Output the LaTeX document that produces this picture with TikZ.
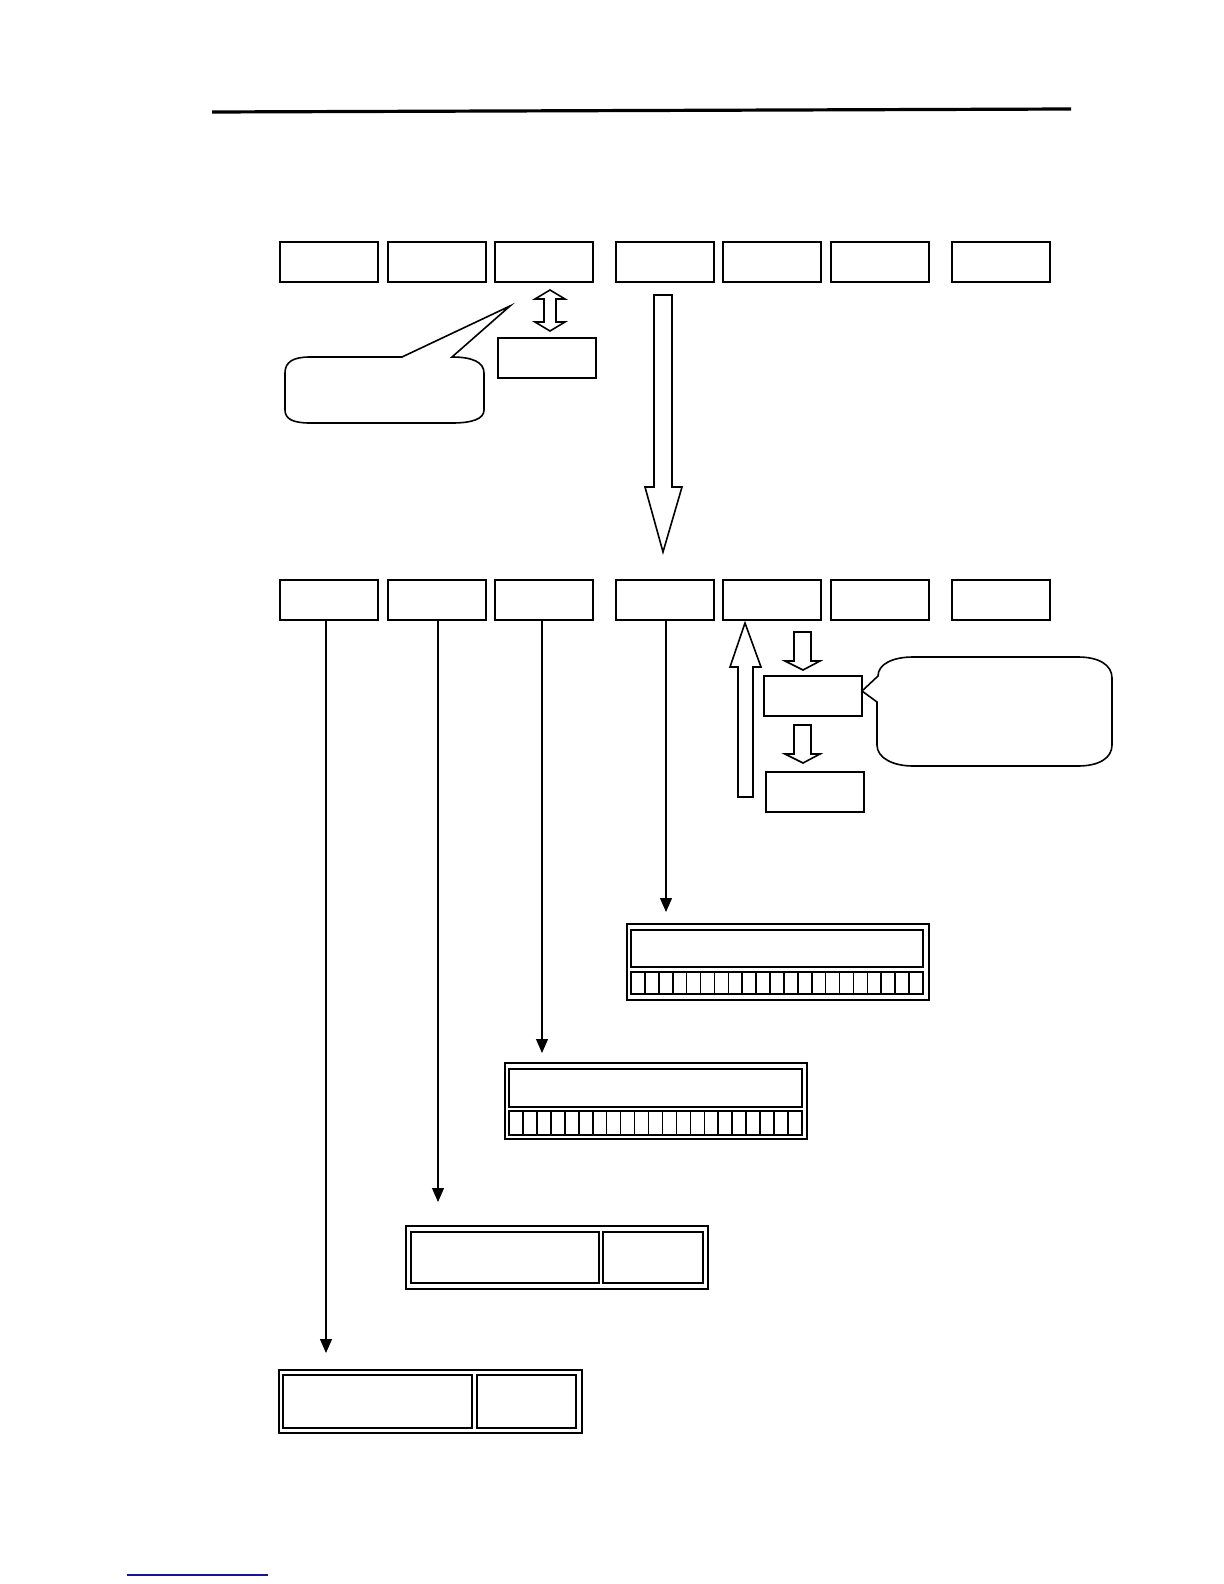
\documentclass[tikz,border=0pt]{standalone}
\usetikzlibrary{arrows.meta}
\begin{document}
\begin{tikzpicture}[x=0.5pt,y=-0.5pt,
  box/.style={draw,line width=1pt,minimum width=49pt,minimum height=20pt,inner sep=0pt,outer sep=0pt},
  panel/.style={draw,line width=1pt,inner sep=0pt,outer sep=0pt},
  conn/.style={line width=0.6pt,-{Triangle[length=7pt,width=6pt]}},
  blk/.style={draw,line width=0.8pt,fill=white,line join=miter}]
\useasboundingbox (0,0) rectangle (1224,1584);
\fill[white] (0,0) rectangle (1224,1584);
% header and footer rules
\coordinate (hl) at (212,112); \coordinate (hr) at (1071,109);
\draw[line width=1.6pt] (hl) -- (hr);
\coordinate (fl) at (127,1575); \coordinate (fr) at (268,1575);
\draw[line width=0.9pt,color={rgb,255:red,20;green,20;blue,150}] (fl) -- (fr);
% top row
\foreach \n/\x in {a/329,b/436.5,c/543.5,d/665,e/772,f/879.5,g/1001}{
  \node[box] (t\n) at (\x,262) {};
  \node[box] (s\n) at (\x,600) {};
}
% double arrow and box under
\node[box] (tx) at (546.5,357.5) {};
\draw[blk] (550,290) -- (565,299) -- (556,299) -- (556,322) -- (565,322) -- (550,331)
  -- (535,322) -- (544,322) -- (544,299) -- (535,299) -- cycle;
% callout 1
\draw[line width=0.8pt,line join=miter] (402,357) -- (510,306) -- (452,357)
  .. controls (472,357) and (484,362) .. (484,373) -- (484,410)
  .. controls (484,419) and (472,423) .. (452,423) -- (310,423)
  .. controls (293,423) and (285,419) .. (285,410) -- (285,373)
  .. controls (285,362) and (293,357) .. (310,357) -- cycle;
% big down arrow
\draw[blk] (654,295) -- (672,295) -- (672,487) -- (682,487) -- (663,552) -- (645,487) -- (654,487) -- cycle;
% second row extras
\node[box] (ua) at (813,696) {};
\node[box] (ub) at (814.5,792) {};
\draw[blk] (738,797) -- (738,667) -- (730,667) -- (745,623) -- (761,667) -- (753,667) -- (753,797) -- cycle;
\draw[blk] (794,632) -- (811,632) -- (811,661) -- (820,661) -- (803,670) -- (785,661) -- (794,661) -- cycle;
\draw[blk] (794,725) -- (811,725) -- (811,754) -- (820,754) -- (803,763) -- (785,754) -- (794,754) -- cycle;
% callout 2
\draw[line width=0.8pt,line join=miter] (878,676) -- (862,691) -- (877,702) -- (877,745)
  .. controls (877,758) and (893,766) .. (913,766) -- (1078,766)
  .. controls (1099,766) and (1112,758) .. (1112,745) -- (1112,678)
  .. controls (1112,665) and (1099,657) .. (1078,657) -- (913,657)
  .. controls (893,657) and (878,664) .. cycle;
% panels
\node[panel,minimum width=151pt,minimum height=38pt] (p1) at (778,962) {};
\draw[line width=1.4pt] (631,930) rectangle (923,967);
\draw[line width=0.8pt] (631,972) rectangle (923,994);
\foreach \i in {1,...,20}{\draw[line width=0.8pt] ({631+\i*292/21},972) -- ({631+\i*292/21},994);}
\node[panel,minimum width=151pt,minimum height=38pt] (p2) at (656,1101) {};
\draw[line width=0.8pt] (509,1069) rectangle (802,1107);
\draw[line width=0.8pt] (509,1111) rectangle (802,1135);
\foreach \i in {1,...,20}{\draw[line width=0.8pt] ({509+\i*293/21},1111) -- ({509+\i*293/21},1135);}
\node[panel,minimum width=151pt,minimum height=31.5pt] (p3) at (557,1257.5) {};
\draw[line width=1.3pt] (411,1232) rectangle (599,1283);
\draw[line width=1.3pt] (603,1232) rectangle (703,1283);
\node[panel,minimum width=151.5pt,minimum height=31.5pt] (p4) at (430.5,1401.5) {};
\draw[line width=1.3pt] (283,1375) rectangle (472,1428);
\draw[line width=1.3pt] (477,1375) rectangle (576,1428);
% connectors
\coordinate (e1) at (326,1353);
\coordinate (e2) at (438,1202);
\coordinate (e3) at (542,1053);
\coordinate (e4) at (666,912);
\draw[conn] (sa.south -| e1) -- (e1);
\draw[conn] (sb.south -| e2) -- (e2);
\draw[conn] (sc.south -| e3) -- (e3);
\draw[conn] (sd.south -| e4) -- (e4);
\end{tikzpicture}
\end{document}
